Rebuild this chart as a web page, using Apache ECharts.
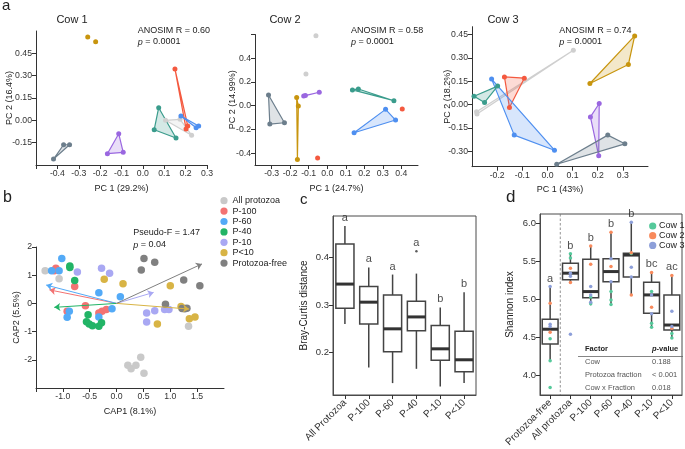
<!DOCTYPE html>
<html><head><meta charset="utf-8">
<script src="https://cdn.jsdelivr.net/npm/echarts@6/dist/echarts.min.js"></script>
<style>html,body{margin:0;padding:0;background:#fff}#c{width:685px;height:449px}</style>
</head><body><div id="c"></div><script>
const FONT = '"Liberation Sans", Arial, sans-serif';
const groupNames = ['All protozoa','P-100','P-60','P-40','P-10','P<10','Protozoa-free'];

// ---- Panel a: PCoA coordinates, one list per fraction (groupNames order)
const cow1 = [
  [[0.106,0.0],[0.174,0.007],[0.228,-0.10]],
  [[0.150,0.345],[0.21,-0.038],[0.202,-0.058]],
  [[0.178,0.029],[0.249,-0.05],[0.261,-0.038]],
  [[0.074,0.085],[0.053,-0.063],[0.155,-0.119]],
  [[-0.113,-0.09],[-0.166,-0.224],[-0.092,-0.215]],
  [[-0.258,0.56],[-0.221,0.527]],
  [[-0.418,-0.26],[-0.371,-0.164],[-0.343,-0.164]]
];
const cow2 = [
  [[-0.061,0.589],[-0.115,0.268]],
  [[-0.052,-0.442],[0.405,-0.028]],
  [[0.315,-0.031],[0.369,-0.121],[0.145,-0.228]],
  [[0.136,0.133],[0.168,0.141],[0.36,0.042]],
  [[-0.127,0.082],[-0.043,0.113],[-0.118,0.085]],
  [[-0.165,0.068],[-0.156,-0.003],[-0.161,-0.453]],
  [[-0.317,0.09],[-0.31,-0.155],[-0.231,-0.144]]
];
const cow3 = [
  [[0.103,0.349],[-0.282,-0.047],[-0.28,-0.062]],
  [[-0.171,0.177],[-0.092,0.169],[-0.151,-0.019]],
  [[-0.222,0.163],[-0.132,-0.197],[0.028,-0.294]],
  [[-0.292,0.053],[-0.25,0.013],[-0.198,0.118]],
  [[0.206,0.006],[0.171,-0.08],[0.204,-0.33]],
  [[0.347,0.441],[0.322,0.257],[0.169,0.135]],
  [[0.24,-0.197],[0.308,-0.253],[0.037,-0.384]]
];
const cowTitles = ['Cow 1','Cow 2','Cow 3'];
const anosimR = ['0.60','0.58','0.74'];
const cow1XTicks = [-0.4,-0.3,-0.2,-0.1,0,0.1,0.2,0.3];
const cow1YTicks = [-0.15,0,0.15,0.3,0.45];
const cow2XTicks = [-0.3,-0.2,-0.1,0,0.1,0.2,0.3,0.4];
const cow2YTicks = [-0.4,-0.2,0,0.2,0.4];
const cow3XTicks = [-0.2,-0.1,0,0.1,0.2,0.3];
const cow3YTicks = [-0.3,-0.15,0,0.15,0.3,0.45];

// ---- Panel b: CAP scores
const bAllProtozoa = [[-1.33,1.16],[-1.07,0.87],[1.34,-0.81],[0.21,-2.19],[0.27,-2.32],[0.36,-2.19],[0.45,-1.91],[0.51,-2.48]];
const bP100 = [[-1.16,1.16],[-1.13,1.25],[-0.78,0.60],[-0.58,-0.08],[-0.92,-0.28],[-0.33,-0.34],[-0.27,-0.28],[-0.19,-0.22]];
const bP60 = [[-1.21,1.16],[-1.07,1.16],[-1.02,1.59],[-0.33,0.38],[0.07,0.24],[-0.88,-0.28],[-0.92,-0.49],[-0.085,-0.19],[-0.33,-0.48]];
const bP40 = [[-0.87,1.33],[-0.87,1.27],[-0.78,0.81],[-0.53,-0.40],[-0.56,-0.65],[-0.51,-0.73],[-0.45,-0.79],[-0.33,-0.81],[-0.28,-0.69]];
const bP10 = [[-0.73,1.11],[-0.28,1.25],[-0.13,1.07],[0.56,-0.34],[0.71,-0.26],[0.56,-0.66],[0.895,-0.22],[0.975,-0.22]];
const bPlt10 = [[-0.23,0.86],[0.12,0.70],[1.0,0.63],[0.76,-0.73],[1.2,-0.11],[1.355,-0.54],[1.46,-0.48],[1.25,-0.17]];
const bFree = [[0.51,1.59],[0.71,1.46],[0.46,1.18],[1.25,0.83],[1.55,0.63],[0.91,-0.03],[1.22,-0.18],[1.27,-0.19],[1.31,-0.17]];
const bArrowEnds = [null,[-1.25,0.48],[-1.31,0.65],[-1.16,-0.14],[0.69,0.39],[1.35,-0.2],[1.59,1.40]];
const bXTicks = [-1.0,-0.5,0,0.5,1.0,1.5];
const bYTicks = [-2,-1,0,1,2];

// ---- Panel c: Bray-Curtis boxplots [min, Q1, median, Q3, max]
const cCategories = ['All Protozoa','P-100','P-60','P-40','P-10','P<10'];
const cBoxes = [[0.26,0.293,0.344,0.428,0.466],[0.169,0.26,0.306,0.339,0.379],[0.136,0.202,0.25,0.321,0.364],[0.166,0.246,0.275,0.308,0.366],[0.129,0.184,0.208,0.257,0.295],[0.136,0.160,0.185,0.245,0.327]];
const cOutliers = [[3,0.413]];
const cLetters = ['a','a','a','a','b','b'];
const cYTicks = [0.2,0.3,0.4];

// ---- Panel d: Shannon index boxplots
const dCategories = ['Protozoa-free','All protozoa','P-100','P-60','P-40','P-10','P<10'];
const dBoxes = [[4.19,4.41,4.605,4.737,5.166],[5.21,5.254,5.342,5.474,5.596],[4.92,5.02,5.10,5.526,5.70],[4.92,5.23,5.363,5.53,5.89],[5.056,5.29,5.58,5.605,6.01],[4.63,4.816,5.056,5.224,5.355],[4.487,4.596,4.66,5.056,5.32]];
const dOutliers = [[0,3.84],[1,4.54]];
const dLetters = ['a','b','b','b','b','bc','ac'];
const dCow1 = [[0,4.478],[0,4.19],[0,3.84],[1,5.596],[1,5.54],[2,5.03],[2,4.94],[3,5.10],[3,4.99],[3,4.93],[4,5.60],[5,5.10],[5,4.684],[5,4.63],[6,4.55],[6,4.49]];
const dCow2 = [[0,4.947],[0,4.566],[1,5.408],[1,5.218],[2,5.70],[2,5.46],[3,5.88],[3,5.43],[4,5.61],[4,5.056],[5,5.35],[5,4.895],[6,5.31],[6,4.618]];
const dCow3 = [[0,5.166],[0,4.67],[0,4.64],[1,5.342],[1,5.30],[1,4.54],[2,5.166],[2,5.056],[2,4.96],[3,5.53],[3,5.23],[4,6.01],[4,5.42],[4,5.29],[5,5.056],[5,4.81],[6,4.84],[6,4.64]];
const dYTicks = [4.0,4.5,5.0,5.5,6.0];
const tableFactors = ['Cow','Protozoa fraction','Cow x Fraction'];
const tablePValues = ['0.188','< 0.001','0.018'];

// ---------------- styling / building ----------------
const aColors = ['#cfcfcf','#f4593f','#4e8ff0','#3a9c8c','#9a67e0','#c8950e','#6c7e8c'];
const bColors = ['#c9c9c9','#f37373','#53aaf7','#22b466','#a9a8f3','#d8b445','#808080'];
const cowColors = ['#55c99b','#f88a5c','#8d9fd9'];

function hexA(hex, a){const n=parseInt(hex.slice(1),16);return 'rgba('+(n>>16)+','+((n>>8)&255)+','+(n&255)+','+a+')';}
function convexHull(p){
  const pts=p.slice().sort((a,b)=>a[0]-b[0]||a[1]-b[1]);
  const cr=(o,a,b)=>(a[0]-o[0])*(b[1]-o[1])-(a[1]-o[1])*(b[0]-o[0]);
  const lo=[];for(const q of pts){while(lo.length>=2&&cr(lo[lo.length-2],lo[lo.length-1],q)<=0)lo.pop();lo.push(q);}
  const up=[];for(let i=pts.length-1;i>=0;i--){const q=pts[i];while(up.length>=2&&cr(up[up.length-2],up[up.length-1],q)<=0)up.pop();up.push(q);}
  up.pop();lo.pop();return lo.concat(up);
}

const axLine = {show:true, onZero:false, lineStyle:{color:'#333', width:1}};
function vAxis(gi,min,max,labels,ticks,dec,name,nameGap,fs,nfs){
  return {type:'value', gridIndex:gi, min, max, name, nameLocation:'middle', nameGap, nameMoveOverlap:false,
    nameTextStyle:{color:'#222', fontSize:nfs, fontFamily:FONT},
    axisLine:axLine, splitLine:{show:false},
    axisTick:{show:true, length:4, lineStyle:{color:'#333'}, customValues:ticks},
    axisLabel:{color:'#333', fontSize:fs, fontFamily:FONT, margin:4, customValues:labels, formatter:v=>Number(v).toFixed(dec)}};
}

const G = {outerBoundsMode:'none', containLabel:false};
const grids = [
  Object.assign({left:36, top:31, width:171, height:134}, G),
  Object.assign({left:255, top:34.5, width:163, height:130.5}, G),
  Object.assign({left:472, top:26.7, width:176, height:140}, G),
  Object.assign({left:36, top:247, width:188, height:141}, G),
  Object.assign({left:333, top:216, width:143, height:179, show:true, borderColor:'#4a4a4a', borderWidth:1}, G),
  Object.assign({left:540, top:214, width:142, height:181, show:true, borderColor:'#4a4a4a', borderWidth:1}, G)
];

const catLabel = {interval:0, rotate:45, color:'#333', fontSize:10, fontFamily:FONT, margin:6};
const xAxes = [
  vAxis(0,-0.5,0.3,cow1XTicks,[-0.5].concat(cow1XTicks),1,'PC 1 (29.2%)',19,8.7,9),
  vAxis(1,-0.39,0.49,cow2XTicks,cow2XTicks,1,'PC 1 (24.7%)',19,8.7,9),
  vAxis(2,-0.3,0.4,cow3XTicks,cow3XTicks,1,'PC 1 (43%)',18,8.7,9),
  vAxis(3,-1.5,2.0,bXTicks,[-1.5].concat(bXTicks),1,'CAP1 (8.1%)',19,8.7,9),
  {type:'category', gridIndex:4, data:cCategories,
    axisLine:{show:true, lineStyle:{color:'#4a4a4a'}}, axisTick:{show:true, alignWithLabel:true, length:4, lineStyle:{color:'#333'}},
    axisLabel:catLabel},
  {type:'category', gridIndex:5, data:dCategories,
    axisLine:{show:true, lineStyle:{color:'#4a4a4a'}}, axisTick:{show:true, alignWithLabel:true, length:4, lineStyle:{color:'#333'}},
    axisLabel:catLabel}
];
const yAxes = [
  vAxis(0,-0.3,0.6,cow1YTicks,cow1YTicks,2,'PC 2 (16.4%)',22,8.7,9),
  vAxis(1,-0.5,0.6,cow2YTicks,cow2YTicks.concat([0.6]),1,'PC 2 (14.99%)',18,8.7,9),
  vAxis(2,-0.4,0.5,cow3YTicks,cow3YTicks,2,'PC 2 (18.2%)',20,8.7,9),
  vAxis(3,-3,2,bYTicks,bYTicks,0,'CAP2 (5.5%)',14.5,8.7,9),
  vAxis(4,0.111,0.487,cYTicks,cYTicks,1,'Bray-Curtis distance',23.5,9.5,10),
  vAxis(5,3.74,6.12,dYTicks,dYTicks,1,'Shannon index',24.5,9.5,10)
];
yAxes[4].axisLine = {show:true,onZero:false,lineStyle:{color:'#4a4a4a'}};
yAxes[5].axisLine = {show:true,onZero:false,lineStyle:{color:'#4a4a4a'}};

const series = [];
// Panel a hulls and points
[cow1,cow2,cow3].forEach((cow,ci)=>{
  cow.forEach((pts,gi)=>{
    const col = aColors[gi];
    if (pts.length >= 3) {
      series.push({type:'custom', name:'a'+ci+'-hull-'+groupNames[gi], xAxisIndex:ci, yAxisIndex:ci, silent:true, z:2,
        data:[pts[0]], encode:{x:0,y:1},
        renderItem:(params, api)=>{
          const poly = convexHull(pts.map(p=>api.coord(p)));
          return {type:'polygon', shape:{points:poly}, style:{fill:hexA(col,0.22), stroke:col, lineWidth:1.2, lineJoin:'round'}};
        }});
    }
    series.push({type:'scatter', name:'a'+ci+'-'+groupNames[gi], xAxisIndex:ci, yAxisIndex:ci, data:pts,
      symbolSize:5, itemStyle:{color:col, opacity:1}, z:3, silent:true});
  });
});

// Panel b points and arrows
const bGroups = [bAllProtozoa,bP100,bP60,bP40,bP10,bPlt10,bFree];
bGroups.forEach((pts,gi)=>{
  series.push({type:'scatter', name:groupNames[gi], xAxisIndex:3, yAxisIndex:3, data:pts, symbolSize:7.5,
    itemStyle:{color:bColors[gi], opacity:1}, z:3, silent:true});
});
bArrowEnds.forEach((end,gi)=>{
  if (!end) return;
  series.push({type:'lines', name:'arrow-'+groupNames[gi], coordinateSystem:'cartesian2d', xAxisIndex:3, yAxisIndex:3,
    data:[{coords:[[0,0],end]}], symbol:['none','arrow'], symbolSize:6,
    lineStyle:{color:bColors[gi], width:1, opacity:1}, z:4, silent:true});
});

// box renderer (no whisker caps, thick median)
function boxRenderer(ratio){
  return (params, api)=>{
    const x = api.value(0);
    const v = [1,2,3,4,5].map(i=>api.value(i));
    const w = api.size([1,0])[0]*ratio;
    const pMin=api.coord([x,v[0]]), pQ1=api.coord([x,v[1]]), pMd=api.coord([x,v[2]]), pQ3=api.coord([x,v[3]]), pMx=api.coord([x,v[4]]);
    const cx = pMin[0], st = {stroke:'#444', lineWidth:1.5, fill:null};
    return {type:'group', children:[
      {type:'line', shape:{x1:cx,y1:pMx[1],x2:cx,y2:pQ3[1]}, style:st},
      {type:'line', shape:{x1:cx,y1:pQ1[1],x2:cx,y2:pMin[1]}, style:st},
      {type:'rect', shape:{x:cx-w/2,y:pQ3[1],width:w,height:pQ1[1]-pQ3[1]}, style:{stroke:'#444', lineWidth:1.5, fill:'rgba(255,255,255,0)'}},
      {type:'line', shape:{x1:cx-w/2,y1:pMd[1],x2:cx+w/2,y2:pMd[1]}, style:{stroke:'#333', lineWidth:3}}
    ]};
  };
}
function letterAnchors(boxes, outs){
  return boxes.map((b,i)=>{let m=b[4]; outs.forEach(o=>{if(o[0]===i&&o[1]>m)m=o[1];}); return [i,m];});
}
const letterLabel = {show:true, position:'top', distance:2, color:'#222', fontSize:11, fontFamily:FONT};
// Panel c
series.push({type:'custom', name:'c-box', xAxisIndex:4, yAxisIndex:4, data:cBoxes.map((b,i)=>[i].concat(b)),
  encode:{x:0,y:[1,2,3,4,5]}, renderItem:boxRenderer(0.76), z:2, silent:true});
series.push({type:'scatter', name:'c-out', xAxisIndex:4, yAxisIndex:4, data:cOutliers, symbolSize:2.5, itemStyle:{color:'#333'}, silent:true});
series.push({type:'scatter', name:'c-letters', xAxisIndex:4, yAxisIndex:4, data:letterAnchors(cBoxes,cOutliers), symbolSize:1,
  itemStyle:{color:'rgba(0,0,0,0)'}, silent:true,
  label:Object.assign({formatter:p=>cLetters[p.dataIndex]}, letterLabel)});

// Panel d
series.push({type:'custom', name:'d-sep', xAxisIndex:5, yAxisIndex:5, data:[[0,5]], silent:true, z:1,
  renderItem:(params, api)=>{
    const a=api.coord([0,5]), b=api.coord([1,5]); const x=(a[0]+b[0])/2; const cs=params.coordSys;
    return {type:'line', shape:{x1:x,y1:cs.y,x2:x,y2:cs.y+cs.height}, style:{stroke:'#777', lineWidth:0.8, lineDash:[2.5,2]}};
  }});
series.push({type:'custom', name:'d-box', xAxisIndex:5, yAxisIndex:5, data:dBoxes.map((b,i)=>[i].concat(b)),
  encode:{x:0,y:[1,2,3,4,5]}, renderItem:boxRenderer(0.78), z:2, silent:true});
[dCow1,dCow2,dCow3].forEach((pts,i)=>{
  series.push({type:'scatter', name:cowTitles[i], xAxisIndex:5, yAxisIndex:5, data:pts, symbolSize:3.5,
    itemStyle:{color:cowColors[i], opacity:1}, z:3, silent:true});
});
series.push({type:'scatter', name:'d-letters', xAxisIndex:5, yAxisIndex:5, data:letterAnchors(dBoxes,dOutliers), symbolSize:1,
  itemStyle:{color:'rgba(0,0,0,0)'}, silent:true,
  label:Object.assign({formatter:p=>dLetters[p.dataIndex]}, letterLabel)});

// annotations
function txt(x,y,text,size,extra){
  return {type:'text', x, y, silent:true, z:10,
    style:Object.assign({text, fontSize:size, fontFamily:FONT, fill:'#222', verticalAlign:'middle', align:'left'}, extra||{})};
}
function dot(x,y,r,color){ return {type:'circle', shape:{cx:x, cy:y, r}, style:{fill:color}, silent:true, z:10}; }
const graphic = [
  txt(2,6,'a',15), txt(3,198,'b',16), txt(300,200,'c',15), txt(506,197,'d',17)
];
const titleX = [72,285,503], anosX = [137.7,351,559.3];
const italicP = {i:{fontStyle:'italic',fontSize:9,fontFamily:FONT,fill:'#222'}};
cowTitles.forEach((t,i)=>{
  graphic.push(txt(titleX[i],19.5,t,11,{align:'center'}));
  graphic.push(txt(anosX[i],31,'ANOSIM R = '+anosimR[i],9));
  graphic.push(txt(anosX[i],42,'{i|p} = 0.0001',9,{rich:italicP}));
});
graphic.push(txt(133.3,232.7,'Pseudo-F = 1.47',9));
graphic.push(txt(133.3,245,'{i|p} = 0.04',9,{rich:italicP}));
// legend b
groupNames.forEach((n,i)=>{
  const y = 200.7 + i*10.4;
  graphic.push(dot(224,y,3.6,bColors[i]));
  graphic.push(txt(232.5,y,n,9));
});
// legend d
cowTitles.forEach((n,i)=>{
  const y = 226 + i*9.7;
  graphic.push(dot(652.7,y,3.6,cowColors[i]));
  graphic.push(txt(659,y,n,9));
});
// table in d
graphic.push(txt(585,349,'Factor',7.5,{fontWeight:'bold'}));
graphic.push(txt(652,349,'{i|p}-value',7.5,{fontWeight:'bold',rich:{i:{fontStyle:'italic',fontWeight:'bold',fontSize:7.5,fontFamily:FONT,fill:'#222'}}}));
graphic.push({type:'line', shape:{x1:578,y1:356.5,x2:683,y2:356.5}, style:{stroke:'#666', lineWidth:0.8}, silent:true});
const rowY = [362.3,375,388];
tableFactors.forEach((f,i)=>{
  graphic.push(txt(585,rowY[i],f,7.5,{fill:'#555'}));
  graphic.push(txt(652,rowY[i],tablePValues[i],7.5,{fill:'#555'}));
});

const chart = echarts.init(document.getElementById('c'), null, {renderer:'canvas', width:685, height:449});
chart.setOption({
  animation:false,
  backgroundColor:'#fff',
  grid:grids, xAxis:xAxes, yAxis:yAxes, series, graphic
});
</script></body></html>
